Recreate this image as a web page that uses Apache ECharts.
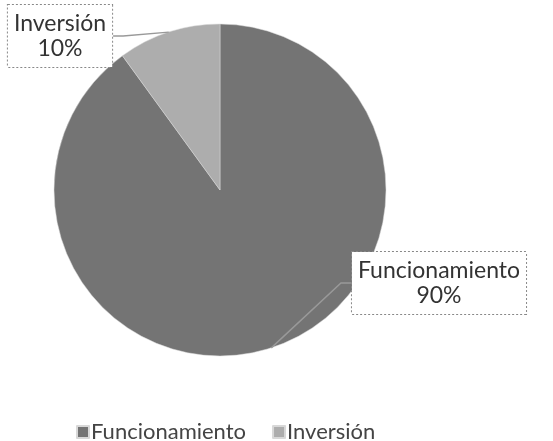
<!DOCTYPE html>
<html>
<head>
<meta charset="utf-8">
<script src="https://cdn.jsdelivr.net/npm/echarts@6/dist/echarts.min.js"></script>
<style>html,body{margin:0;padding:0;background:#fff}#c{width:553px;height:441px}</style>
</head>
<body>
<div id="c"></div>
<script>
var categories = ['Funcionamiento', 'Inversión'];
var values = [90, 10];
var percentLabels = ['90%', '10%'];

var colors = ['#747474', '#adadad'];
var labelPos = {
  'Funcionamiento': { x: 439, y: 252 },
  'Inversión': { x: 60, y: 5 }
};

var chart = echarts.init(document.getElementById('c'), null, { renderer: 'canvas' });
chart.setOption({
  animation: false,
  backgroundColor: '#ffffff',
  color: colors,
  legend: {
    data: categories,
    left: 71,
    top: 416,
    icon: 'rect',
    itemWidth: 12,
    itemHeight: 12,
    itemGap: 26,
    textStyle: { fontFamily: 'Lato', fontSize: 22, color: '#444', padding: [0, 0, 0, -3] }
  },
  series: [{
    type: 'pie',
    center: [220, 190],
    radius: 166,
    startAngle: 90,
    clockwise: true,
    data: categories.map(function (c, i) {
      return { name: c, value: values[i] };
    }),
    itemStyle: { borderColor: '#d8d8d8', borderWidth: 0.5 },
    label: {
      show: true,
      position: 'outside',
      formatter: function (p) { return p.name + '\n' + percentLabels[p.dataIndex]; },
      fontFamily: 'Lato',
      fontSize: 23,
      lineHeight: 25,
      color: '#333',
      align: 'center',
      padding: [6, 6, 6, 6],
      backgroundColor: '#ffffff',
      borderColor: '#888',
      borderWidth: 1,
      borderType: 'dotted'
    },
    labelLine: {
      show: true,
      showAbove: true,
      length: 10,
      length2: 10,
      maxSurfaceAngle: 180,
      minTurnAngle: 0,
      lineStyle: { color: '#999', width: 1.5 }
    },
    labelLayout: function (params) {
      var p = labelPos[categories[params.dataIndex]];
      return { x: p.x, y: p.y, align: 'center', verticalAlign: 'top' };
    }
  }]
});
</script>
</body>
</html>
